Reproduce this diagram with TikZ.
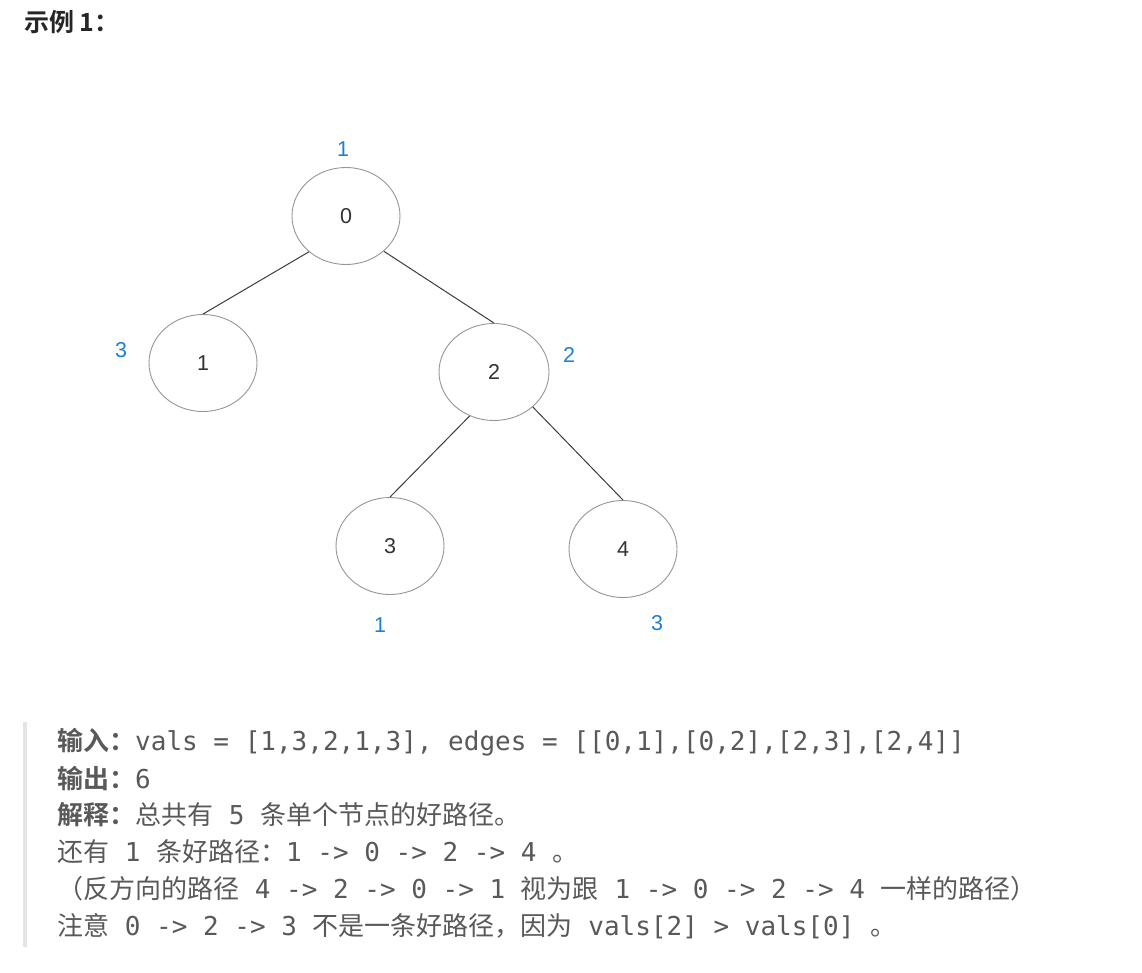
\documentclass[tikz,border=0pt]{standalone}
\usepackage{fontspec}
\usetikzlibrary{shapes.geometric}
\setmainfont{Liberation Sans}
\newfontfamily\cjk{Noto Sans CJK SC}
\newfontfamily\cjkb{Noto Sans CJK SC Bold}
\newfontfamily\mono{DejaVu Sans Mono}
\definecolor{txtgray}{RGB}{89,89,89}
\definecolor{lblblue}{RGB}{30,128,210}
\definecolor{ringgray}{RGB}{150,150,150}
\definecolor{edgegray}{RGB}{60,60,60}
\definecolor{bargray}{RGB}{228,228,228}
\definecolor{titlecol}{RGB}{38,38,38}
\tikzset{
  treenode/.style={ellipse, draw=ringgray, line width=0.9pt, minimum width=108pt, minimum height=97pt, inner sep=0pt, text=black!80, font=\fontsize{21.5}{24}\selectfont},
  vallabel/.style={text=lblblue, font=\fontsize{21.5}{24}\selectfont, inner sep=0pt},
  treeedge/.style={draw=edgegray, line width=1pt},
  textline/.style={anchor=west, inner sep=0pt, text=txtgray, font=\fontsize{26}{30}\selectfont}
}
\begin{document}
\begin{tikzpicture}[x=1pt,y=-1pt]
\useasboundingbox (0,0) rectangle (1142,972);
\fill[white] (0,0) rectangle (1142,972);

\node[anchor=west, inner sep=0pt, text=titlecol, font=\fontsize{25}{30}\selectfont] (title) at (24,22) {\cjkb 示例 1：};

\node[treenode] (n0) at (346,216) {0};
\node[treenode] (n1) at (203,363) {1};
\node[treenode, minimum width=110pt] (n2) at (494,372) {2};
\node[treenode] (n3) at (390,546) {3};
\node[treenode] (n4) at (623,549) {4};

\draw[treeedge] (n0.224) -- (n1.north);
\draw[treeedge] (n0.317) -- (n2.north);
\draw[treeedge] (n2.241) -- (n3.north);
\draw[treeedge] (n2.318) -- (n4.north);

\node[vallabel] (v0) at (343,149) {1};
\node[vallabel] (v1) at (121,350) {3};
\node[vallabel] (v2) at (569,355) {2};
\node[vallabel] (v3) at (380,625) {1};
\node[vallabel] (v4) at (657,623) {3};

\fill[bargray] (23,722) rectangle (27,947);

\node[textline] (l1) at (57,742) {{\cjkb 输入：}{\mono vals = [1,3,2,1,3], edges = [[0,1],[0,2],[2,3],[2,4]]}};
\node[textline] (l2) at (57,779) {{\cjkb 输出：}{\mono 6}};
\node[textline] (l3) at (57,815) {{\cjkb 解释：}{\cjk 总共有}{\mono\ 5\ }{\cjk 条单个节点的好路径。}};
\node[textline] (l4) at (57,852) {{\cjk 还有}{\mono\ 1\ }{\cjk 条好路径：}{\mono 1 -> 0 -> 2 -> 4\ }{\cjk 。}};
\node[textline] (l5) at (57,889) {{\cjk （反方向的路径}{\mono\ 4 -> 2 -> 0 -> 1\ }{\cjk 视为跟}{\mono\ 1 -> 0 -> 2 -> 4\ }{\cjk 一样的路径）}};
\node[textline] (l6) at (57,926) {{\cjk 注意}{\mono\ 0 -> 2 -> 3\ }{\cjk 不是一条好路径，因为}{\mono\ vals[2] > vals[0]\ }{\cjk 。}};
\end{tikzpicture}
\end{document}
